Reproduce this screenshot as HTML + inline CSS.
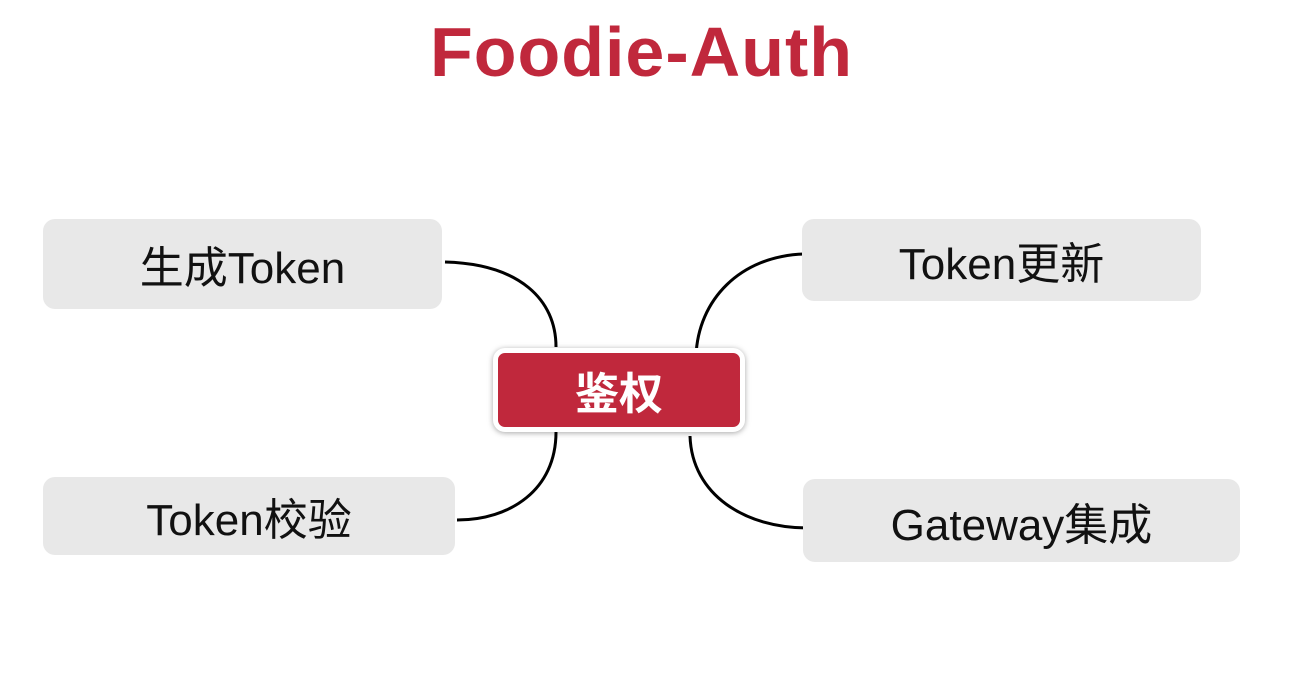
<!DOCTYPE html>
<html><head><meta charset="utf-8"><style>
body{margin:0;width:1291px;height:673px;background:#fff;position:relative;overflow:hidden;font-family:"Liberation Sans","Noto Sans CJK SC",sans-serif}
.t{position:absolute;left:0;width:1291px;top:10px;text-align:center;font-size:70px;font-weight:bold;color:#c0283c;line-height:84px;letter-spacing:1px;padding-left:0}
.b{position:absolute;background:#e8e8e8;border-radius:12px;display:flex;align-items:center;justify-content:center;font-size:44px;color:#111}
.c{position:absolute;left:493px;top:348px;width:242px;height:74px;border:5px solid #fff;border-radius:12px;background:#c0283c;box-shadow:0 1px 6px rgba(0,0,0,.35);color:#fff;font-size:44px;font-weight:bold;display:flex;align-items:center;justify-content:center}
</style></head><body>
<div class="t" style="left:-4px">Foodie-Auth</div>
<svg width="1291" height="673" style="position:absolute;left:0;top:0" fill="none" stroke="#000" stroke-width="3">
<path d="M445,262 C520,264 556,300 556,347"/>
<path d="M804,254 C740,256 698,300 696,356"/>
<path d="M556,432 C556,490 510,520 457,520"/>
<path d="M690,436 C692,495 745,528 808,528"/>
</svg>
<div class="b" style="left:43px;top:219px;width:399px;height:90px">生成Token</div>
<div class="b" style="left:802px;top:219px;width:399px;height:82px">Token更新</div>
<div class="b" style="left:43px;top:477px;width:412px;height:78px">Token校验</div>
<div class="b" style="left:803px;top:479px;width:437px;height:83px">Gateway集成</div>
<div class="c">鉴权</div>
</body></html>
